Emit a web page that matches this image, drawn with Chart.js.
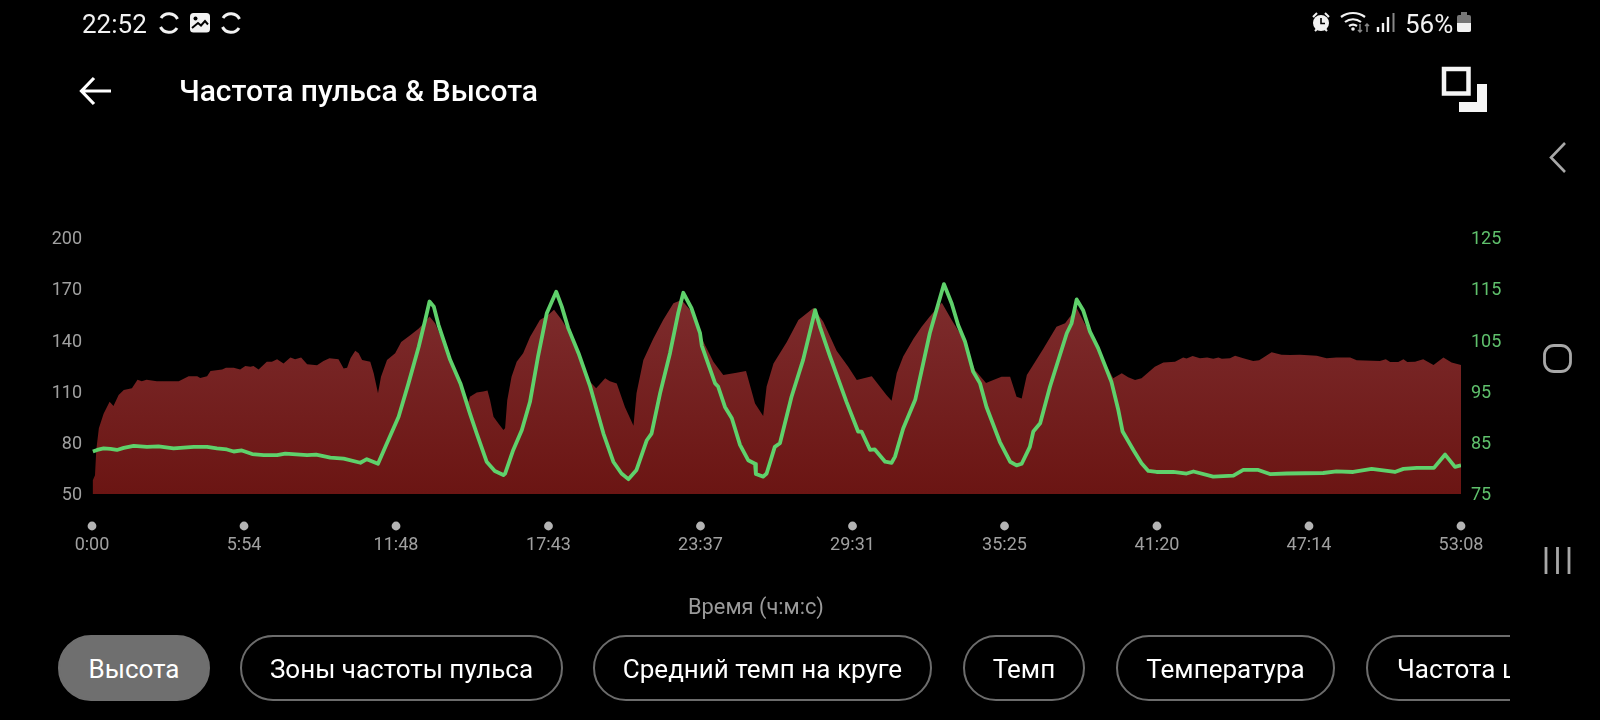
<!DOCTYPE html>
<html>
<head>
<meta charset="utf-8">
<title>Частота пульса & Высота</title>
<script src="https://cdn.jsdelivr.net/npm/chart.js@4"></script>
<style>
  html, body { margin: 0; padding: 0; background: #000; }
  #page { position: relative; width: 1600px; height: 720px; overflow: hidden; background: #000; font-family: Roboto, sans-serif; }
  #page canvas, #page svg { position: absolute; left: 0; top: 0; }
  .txt { position: absolute; white-space: nowrap; line-height: 1; }
  .chip { position: absolute; top: 635px; height: 66px; box-sizing: border-box; border: 2px solid #6c6c6c; border-radius: 33px;
          color: #fff; font-size: 26px; line-height: 65px; text-align: center; white-space: nowrap; }
  .chip.on { background: #6f6f6f; border-color: #6f6f6f; color: #fff; }
  #chipclip { position: absolute; left: 0; top: 620px; width: 1510px; height: 100px; overflow: hidden; }
  #chipclip .chip { top: 15px; }
</style>
</head>
<body>
<div id="page">
  <canvas id="chart" width="1600" height="720"></canvas>
  <svg width="1600" height="720" fill="none">
    <!-- status bar, left -->
    <g stroke="#f2f2f2" stroke-width="3">
      <path d="M161 18a9.5 9.5 0 0 1 16.5 1M177 28a9.5 9.5 0 0 1 -16.5 -1"/>
      <path d="M223 18a9.5 9.5 0 0 1 16.5 1M239 28a9.5 9.5 0 0 1 -16.5 -1"/>
    </g>
    <rect x="190" y="13" width="20" height="19.5" rx="3.5" fill="#f2f2f2"/>
    <circle cx="195.5" cy="18.5" r="2" fill="#000"/>
    <path d="M192 28l6-5 3 2.5 4-4.5 3 3.5" stroke="#000" stroke-width="2"/>
    <!-- status bar, right -->
    <circle cx="1321" cy="23" r="8" fill="#f2f2f2"/>
    <path d="M1321 18v5.5h4" stroke="#000" stroke-width="1.6"/>
    <path d="M1313 17l4-4M1329 17l-4-4M1315 31l2-2M1327 31l-2-2" stroke="#f2f2f2" stroke-width="2"/>
    <g stroke="#f2f2f2" stroke-width="2.2">
      <path d="M1341 17a20 20 0 0 1 24 0M1345 22a13 13 0 0 1 16 0M1349 26a7 7 0 0 1 8 0"/>
    </g>
    <circle cx="1353" cy="29" r="1.8" fill="#f2f2f2"/>
    <path d="M1360 24v8M1358 30l2 2 2-2M1367 32v-8M1365 26l2-2 2 2" stroke="#888" stroke-width="1.5"/>
    <path d="M1378 27v5M1383 23v9M1388 17v15" stroke="#f2f2f2" stroke-width="2.4"/>
    <path d="M1393.5 13v19" stroke="#888" stroke-width="2"/>
    <rect x="1457" y="15" width="14" height="17" rx="2" fill="#777"/>
    <rect x="1461" y="12" width="6" height="3" fill="#777"/>
    <path d="M1457 23h14v7a2 2 0 0 1-2 2h-10a2 2 0 0 1-2-2z" fill="#f2f2f2"/>
    <!-- header icons -->
    <path d="M82 91h29M94 78L81.5 91 94 104" stroke="#fff" stroke-width="3.2"/>
    <rect x="1444" y="69" width="24.5" height="24.5" stroke="#f5f5f5" stroke-width="4.5"/>
    <path d="M1459 112h28V84h-10v18h-18z" fill="#f5f5f5"/>
    <!-- nav bar -->
    <path d="M1565 143L1551 157.5 1565 172" stroke="#a8a8a8" stroke-width="2.6"/>
    <rect x="1544.5" y="345.5" width="26" height="26" rx="9.5" stroke="#a8a8a8" stroke-width="2.8"/>
    <path d="M1546 547v27M1557.5 547v27M1569 547v27" stroke="#a8a8a8" stroke-width="2.8"/>
  </svg>
  <div class="txt" style="left:82px;top:11px;font-size:26px;color:#f2f2f2">22:52</div>
  <div class="txt" style="left:1405px;top:11px;font-size:26px;color:#f2f2f2">56%</div>
  <div class="txt" style="left:179px;top:76px;font-size:30px;font-weight:500;color:#fff">Частота пульса &amp; Высота</div>
  <div class="txt" style="left:688px;top:596px;font-size:21.8px;color:#9a9a9a">Время (ч:м:с)</div>
  <div id="chipclip">
    <div class="chip on" style="left:58px;width:152px">Высота</div>
    <div class="chip" style="left:240px;width:323px">Зоны частоты пульса</div>
    <div class="chip" style="left:593px;width:339px">Средний темп на круге</div>
    <div class="chip" style="left:963px;width:122px">Темп</div>
    <div class="chip" style="left:1116px;width:219px">Температура</div>
    <div class="chip" style="left:1366px;width:240px;text-align:left;padding-left:29px">Частота шага</div>
  </div>
</div>
<script>
const xTickSeconds = [0, 354, 708, 1063, 1417, 1771, 2125, 2480, 2834, 3188];
const xTickLabels = ['0:00', '5:54', '11:48', '17:43', '23:37', '29:31', '35:25', '41:20', '47:14', '53:08'];

// heart rate, left axis
const hrSeconds = [0, 2, 7, 10, 16, 27, 41, 50, 62, 74, 93, 106, 116, 127, 151, 175, 202, 225, 245, 252, 268, 276, 303, 312, 330, 345, 357, 369, 376, 388, 407, 419, 431, 446, 462, 473, 487, 501, 524, 539, 553, 574, 586, 594, 602, 613, 621, 629, 648, 656, 666, 673, 687, 706, 720, 741, 761, 776, 786, 799, 811, 827, 842, 858, 877,
  880, 896, 911, 921, 927, 935, 946, 958, 962, 967, 977, 989, 1004, 1020, 1043, 1063, 1076, 1094, 1113, 1136, 1156, 1174, 1195, 1206, 1222, 1241, 1261, 1268, 1284, 1307, 1330, 1354, 1373, 1396, 1424, 1447, 1470, 1501, 1523, 1544, 1563, 1571, 1587, 1618, 1645, 1680, 1703, 1734, 1761, 1781, 1816, 1850,
  1862, 1874, 1889, 1913, 1932, 1951, 1979, 2002, 2029, 2056, 2082, 2099, 2118, 2138, 2153, 2165, 2177, 2215, 2246, 2266, 2293, 2324, 2378, 2398, 2413, 2429, 2444, 2475, 2495, 2522, 2541, 2549, 2563, 2580, 2597, 2611, 2623, 2631, 2650, 2662, 2681, 2704, 2718, 2747, 2770, 2790, 2813, 2852, 2875, 2898, 2930, 2945, 2999, 3013, 3023, 3042, 3054, 3063, 3081, 3100, 3124, 3147, 3166, 3188];
const hrValues = [50, 58, 61, 76, 88.5, 97, 104, 101.5, 108, 111, 112, 117, 116, 117, 116, 116, 116, 119, 119, 118, 119, 122, 123, 124, 124, 123, 125, 124.5, 125, 123, 127.5, 127.5, 129, 126.5, 130, 129, 130, 126, 125.5, 128, 129.5, 129, 123.5, 124, 129.5, 134, 132.5, 128.5, 127.5, 120.7, 109, 118.7, 128.5, 132.5, 139, 143, 147, 151, 154, 150, 143, 135, 123.6, 114, 104,
  107, 109.4, 110, 110.6, 105, 95.3, 91.4, 87.5, 88.5, 105, 118.7, 127.5, 132.4, 142, 152, 155, 158, 152, 144, 130.5, 116.8, 112, 117.8, 116, 114.8, 101, 90, 109, 128.5, 141, 152, 161.7, 163.7, 157, 139, 127.5, 119.7, 121, 122, 103, 95.7, 113, 126.5, 139, 152, 159, 151, 134, 124.6, 116.8, 119, 108,
  104.7, 120.7, 130.5, 141, 148, 154, 162, 152, 141, 122.6, 115, 116.8, 118.7, 118.7, 107, 106, 119.7, 135, 148, 150, 159, 144, 117.8, 120.7, 118.4, 116.8, 117.8, 124.6, 127, 127.5, 130, 129.4, 130.9, 129.5, 130, 129.2, 130, 129.2, 129.5, 131, 129.5, 128, 128.4, 133, 131.6, 131.4, 131.6, 131, 129.5, 130, 130, 128.3, 128, 129, 127.3, 127.3, 129, 127.3, 127.5, 129, 125.6, 130, 127, 125.6];

// altitude, right axis
const altSeconds = [2, 12, 27, 43, 58, 74, 97, 128, 155, 190, 237, 268, 291, 314, 330, 349, 373, 400, 431, 450, 501, 522, 555, 586, 625, 640, 666, 683, 714, 737, 761, 776, 786, 796, 807, 834, 858,
  880, 896, 919, 938, 958, 962, 981, 1001, 1020, 1039, 1059, 1081, 1094, 1109, 1133, 1160, 1191, 1214, 1233, 1249, 1268, 1292, 1303, 1323, 1346, 1365, 1377, 1396, 1416, 1420, 1451, 1458, 1474, 1490, 1509, 1528, 1544, 1546, 1563, 1571, 1590, 1602, 1629, 1656, 1684, 1695, 1719, 1757, 1784, 1792, 1812, 1823, 1847,
  1862, 1870, 1889, 1917, 1951, 1984, 2002, 2017, 2033, 2052, 2068, 2083, 2114, 2138, 2153, 2165, 2184, 2192, 2208, 2231, 2270, 2281, 2293, 2308, 2324, 2343, 2374, 2390, 2400, 2425, 2444, 2460, 2479, 2518, 2549, 2565, 2611, 2658, 2681, 2716, 2743, 2782, 2867, 2898, 2937, 2980, 3034, 3054, 3085, 3125, 3151, 3174, 3188];
const altValues = [83.3, 83.6, 83.9, 83.8, 83.6, 84, 84.4, 84.2, 84.3, 83.9, 84.2, 84.2, 83.9, 83.7, 83.3, 83.5, 82.8, 82.6, 82.6, 82.9, 82.6, 82.7, 82.1, 81.9, 81.1, 81.8, 80.9, 84.2, 90.1, 96.6, 103.8, 109, 112.6, 111.6, 108, 101.2, 96.6,
  90.75, 86.8, 81.3, 79.5, 78.7, 79, 83.6, 87.5, 93, 102, 110.3, 114.5, 111.6, 107.4, 102.5, 96, 86.8, 81.3, 79, 77.9, 79.7, 85.5, 86.8, 94.7, 102.5, 110.3, 114.3, 111.3, 106.4, 104, 96.6, 96, 92, 89.8, 84.6, 81.6, 80.9, 78.9, 78.4, 79, 84.2, 84.9, 94, 101.2, 110.9, 107.7, 101.8, 93, 87.2, 87.2, 83.6, 83.7, 81.3,
  81.1, 82.3, 87.8, 93.4, 106.4, 116, 112.2, 108, 104.8, 98.9, 96.6, 92, 85.2, 81.3, 80.6, 80.9, 84.2, 87.2, 88.8, 96, 106.4, 108.3, 113, 110.9, 106.7, 103.5, 96.9, 91.4, 87.2, 83.6, 81, 79.5, 79.3, 79.3, 79, 79.4, 78.4, 78.6, 79.7, 79.7, 78.9, 79, 79.1, 79.4, 79.3, 79.9, 79.3, 79.9, 80.1, 80.1, 82.7, 80.3, 80.6];

function toPoints(xs, ys) {
  return xs.map((x, i) => ({ x: x, y: ys[i] }));
}

// grey dots above the time labels
const tickDots = {
  id: 'tickDots',
  afterDraw(chart) {
    const c = chart.ctx, sx = chart.scales.x;
    c.save();
    c.fillStyle = '#b4b4b4';
    xTickSeconds.forEach(s => {
      c.beginPath();
      c.arc(sx.getPixelForValue(s), chart.chartArea.bottom + 32, 4.4, 0, Math.PI * 2);
      c.fill();
    });
    c.restore();
  }
};

// empty first line + small line height nudges the label down to sit on its value
const yTickFont = { family: 'Roboto', size: 18, lineHeight: '3.4px' };

new Chart(document.getElementById('chart'), {
  type: 'line',
  data: {
    datasets: [
      {
        label: 'Высота',
        data: toPoints(altSeconds, altValues),
        yAxisID: 'yAlt',
        borderColor: '#5fd16b',
        borderWidth: 3.8,
        borderJoinStyle: 'round',
        tension: 0,
        pointRadius: 0,
        fill: false,
        order: 0
      },
      {
        label: 'Частота пульса',
        data: toPoints(hrSeconds, hrValues),
        yAxisID: 'yHr',
        borderWidth: 0,
        pointRadius: 0,
        fill: 'start',
        order: 1,
        backgroundColor(ctx) {
          const area = ctx.chart.chartArea;
          if (!area) return '#701c1b';
          const g = ctx.chart.ctx.createLinearGradient(0, area.top + 50, 0, area.bottom);
          g.addColorStop(0, '#7e2d2e');
          g.addColorStop(1, '#6b1513');
          return g;
        }
      }
    ]
  },
  plugins: [tickDots],
  options: {
    responsive: false,
    animation: false,
    devicePixelRatio: 1,
    layout: { padding: { top: 238, bottom: 126, left: 0, right: 0 } },
    plugins: { legend: { display: false }, tooltip: { enabled: false } },
    scales: {
      x: {
        type: 'linear',
        min: 0,
        max: 3188,
        grid: { display: false },
        border: { display: false },
        afterBuildTicks(axis) { axis.ticks = xTickSeconds.map(v => ({ value: v })); },
        afterFit(axis) { axis.height = 100; },
        ticks: {
          autoSkip: false,
          maxRotation: 0,
          padding: 33,
          color: '#a0a0a0',
          font: { family: 'Roboto', size: 18 },
          callback(v) { return xTickLabels[xTickSeconds.indexOf(v)]; }
        }
      },
      yHr: {
        position: 'left',
        min: 50,
        max: 200,
        grid: { display: false },
        border: { display: false },
        afterFit(axis) { axis.width = 92; },
        ticks: { stepSize: 30, padding: 2, color: '#a0a0a0', font: yTickFont, callback: v => ['', String(v)] }
      },
      yAlt: {
        position: 'right',
        min: 75,
        max: 125,
        grid: { display: false },
        border: { display: false },
        afterFit(axis) { axis.width = 139; },
        ticks: { stepSize: 10, padding: 2, color: '#5fc06c', font: yTickFont, callback: v => ['', String(v)] }
      }
    }
  }
});
</script>
</body>
</html>
